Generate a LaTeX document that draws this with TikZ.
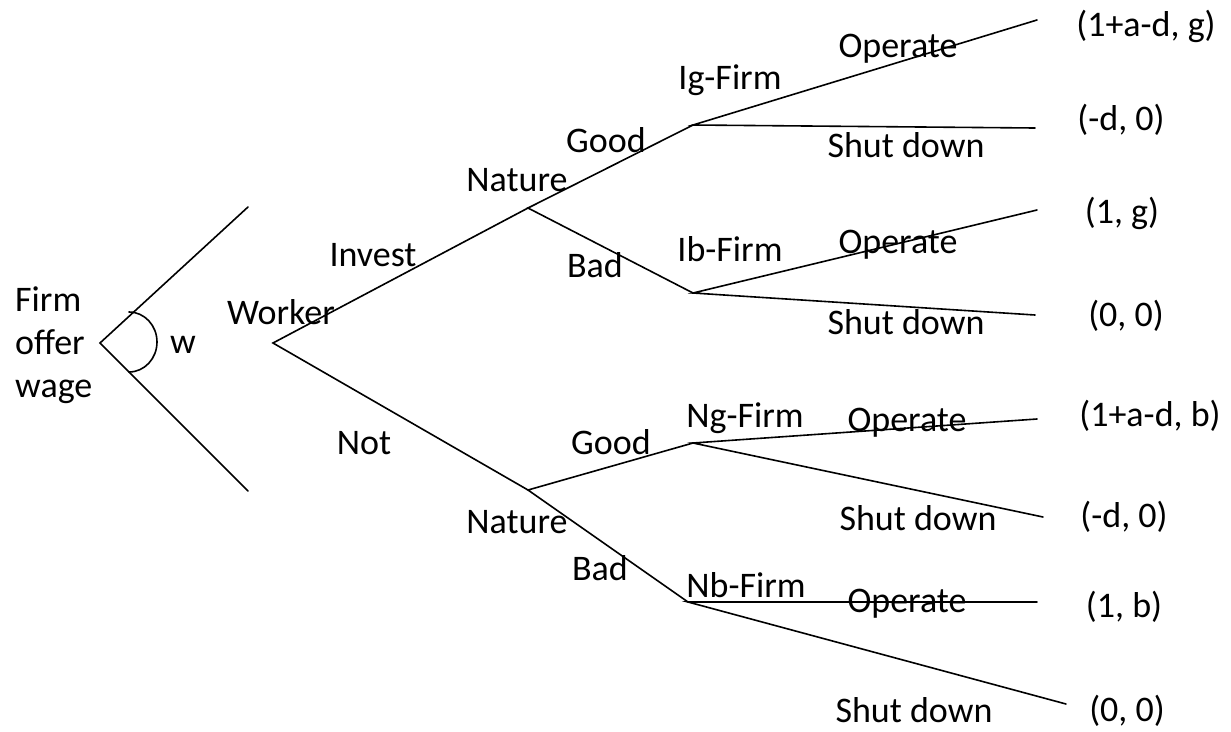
\documentclass[tikz,border=0pt]{standalone}
\usepackage{fontspec}
\setmainfont{Carlito}
\begin{document}
\begin{tikzpicture}[x=1pt,y=-1pt,
  lbl/.style={font=\fontsize{36}{43}\selectfont, inner sep=0pt},
  edge/.style={line width=1.6pt, line cap=round}]
\useasboundingbox (0,0) rectangle (1231,731);
% tree vertices
\coordinate (root) at (100,343);
\coordinate (wU) at (248,207);
\coordinate (wL) at (248,491);
\coordinate (worker) at (273,343);
\coordinate (natU) at (528,208);
\coordinate (natL) at (528,490);
\coordinate (ig) at (693,125);
\coordinate (ib) at (693,293);
\coordinate (ng) at (693,443);
\coordinate (nb) at (688,602);
\coordinate (e1) at (1037,20);
\coordinate (e2) at (1035,128);
\coordinate (e3) at (1037,210);
\coordinate (e4) at (1035,315);
\coordinate (e5) at (1037,419);
\coordinate (e6) at (1043,517);
\coordinate (e7) at (1037,602);
\coordinate (e8) at (1066,704);
% edges
\draw[edge] (wU) -- (root) -- (wL);
\draw[edge] (129,312) arc[start angle=-90, end angle=90, x radius=28, y radius=30];
\draw[edge] (natU) -- (worker) -- (natL);
\draw[edge] (ig) -- (natU) -- (ib);
\draw[edge] (ng) -- (natL) -- (nb);
\draw[edge] (e1) -- (ig) -- (e2);
\draw[edge] (e3) -- (ib) -- (e4);
\draw[edge] (e5) -- (ng) -- (e6);
\draw[edge] (e7) -- (nb) -- (e8);
% labels
\node[lbl, align=left, anchor=west] (firm) at (15,345) {Firm\\offer\\wage};
\node[lbl] (w) at (183,345) {w};
\node[lbl] (workerlbl) at (281,312) {Worker};
\node[lbl] (invest) at (373,255) {Invest};
\node[lbl] (not) at (364,443) {Not};
\node[lbl] (natUl) at (517,180) {Nature};
\node[lbl] (natLl) at (517,522) {Nature};
\node[lbl] (goodU) at (606,140) {Good};
\node[lbl] (badU) at (595,265) {Bad};
\node[lbl] (goodL) at (611,442) {Good};
\node[lbl] (badL) at (600,568) {Bad};
\node[lbl] (igl) at (730,80) {Ig-Firm};
\node[lbl] (ibl) at (730,249) {Ib-Firm};
\node[lbl] (ngl) at (745,418) {Ng-Firm};
\node[lbl] (nbl) at (746,585) {Nb-Firm};
\node[lbl] (op1) at (898,49) {Operate};
\node[lbl] (op2) at (898,245) {Operate};
\node[lbl] (op3) at (907,423) {Operate};
\node[lbl] (op4) at (907,604) {Operate};
\node[lbl] (sd1) at (906,145) {Shut down};
\node[lbl] (sd2) at (906,322) {Shut down};
\node[lbl] (sd3) at (918,518) {Shut down};
\node[lbl] (sd4) at (914,710) {Shut down};
\node[lbl] (p1) at (1146,26) {(1+a-d, g)};
\node[lbl] (p2) at (1121,120) {(-d, 0)};
\node[lbl] (p3) at (1122,213) {(1, g)};
\node[lbl] (p4) at (1126,316) {(0, 0)};
\node[lbl] (p5) at (1150,416) {(1+a-d, b)};
\node[lbl] (p6) at (1124,517) {(-d, 0)};
\node[lbl] (p7) at (1124,607) {(1, b)};
\node[lbl] (p8) at (1127,711) {(0, 0)};
\end{tikzpicture}
\end{document}
